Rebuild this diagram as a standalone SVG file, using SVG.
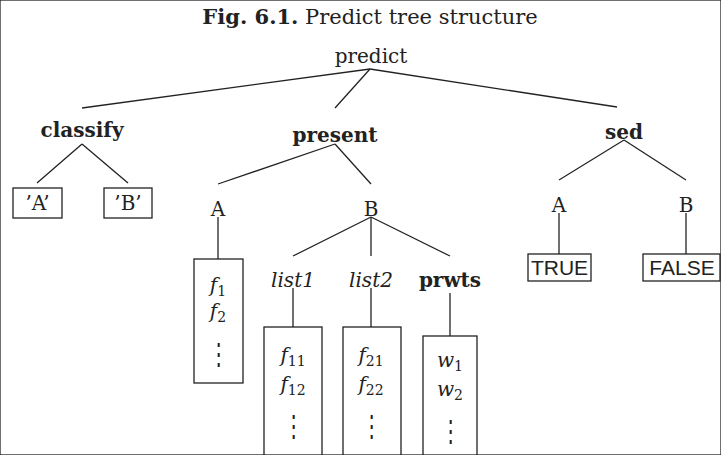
<svg xmlns="http://www.w3.org/2000/svg" width="721" height="455" viewBox="0 0 721 455">
<style>
text{font-family:"DejaVu Serif","Liberation Serif",serif;fill:#222;text-anchor:middle}
.n{font-size:20px}
.b{font-size:20px;font-weight:bold}
.i{font-size:20px;font-style:italic}
.s{font-family:"Liberation Sans",Arial,sans-serif;font-size:21px}
.sub{font-size:14px;font-style:normal}
.d{font-size:19px}
line{stroke:#222;stroke-width:1.3}
rect{fill:none;stroke:#222;stroke-width:1.3}
</style>
<rect width="721" height="455" fill="#fff" stroke="none"/>
<text x="370" y="24" style="font-size:21px"><tspan font-weight="bold">Fig. 6.1.</tspan> Predict tree structure</text>
<g id="connectors">
<line x1="370" y1="69" x2="82" y2="108"/>
<line x1="370" y1="69" x2="335" y2="108"/>
<line x1="370" y1="69" x2="617" y2="107"/>
<line x1="82" y1="144" x2="37" y2="183"/>
<line x1="82" y1="144" x2="128" y2="183"/>
<line x1="335" y1="144" x2="218" y2="184"/>
<line x1="335" y1="144" x2="371" y2="184"/>
<line x1="624" y1="140" x2="559" y2="180"/>
<line x1="624" y1="140" x2="686" y2="180"/>
<line x1="218" y1="217" x2="218" y2="259"/>
<line x1="371" y1="217" x2="293" y2="256"/>
<line x1="371" y1="217" x2="371" y2="256"/>
<line x1="371" y1="217" x2="450" y2="256"/>
<line x1="293" y1="288" x2="293" y2="327"/>
<line x1="371" y1="288" x2="371" y2="327"/>
<line x1="450" y1="293" x2="450" y2="336"/>
<line x1="559" y1="213" x2="559" y2="254"/>
<line x1="686" y1="213" x2="686" y2="254"/>
</g>
<g id="predict"><text class="n" x="371" y="63">predict</text></g>
<g id="classify"><text class="b" x="82" y="137">classify</text></g>
<g id="present"><text class="b" x="335" y="142">present</text></g>
<g id="sed"><text class="b" x="624" y="139">sed</text></g>
<g id="classA"><rect x="13" y="188" width="49" height="30"/><text class="n" x="37.5" y="210">’A’</text></g>
<g id="classB"><rect x="104" y="188" width="48" height="30"/><text class="n" x="128" y="210">’B’</text></g>
<g id="presA"><text class="n" x="218" y="216">A</text></g>
<g id="presB"><text class="n" x="371" y="216">B</text></g>
<g id="fbox"><rect x="194" y="259" width="49" height="124"/>
<text class="i" x="218" y="292">f<tspan class="sub" dy="4">1</tspan></text>
<text class="i" x="218" y="318">f<tspan class="sub" dy="4">2</tspan></text>
<text class="d" transform="translate(218,364) scale(1,1.5)">⋮</text></g>
<g id="list1"><text class="i" x="293" y="287">list1</text></g>
<g id="list2"><text class="i" x="371" y="287">list2</text></g>
<g id="prwts"><text class="b" x="450" y="287">prwts</text></g>
<g id="list1box"><rect x="264" y="327" width="58" height="140"/>
<text class="i" x="293" y="362">f<tspan class="sub" dy="4">11</tspan></text>
<text class="i" x="293" y="391">f<tspan class="sub" dy="4">12</tspan></text>
<text class="d" transform="translate(293,436) scale(1,1.5)">⋮</text></g>
<g id="list2box"><rect x="343" y="327" width="58" height="140"/>
<text class="i" x="371" y="362">f<tspan class="sub" dy="4">21</tspan></text>
<text class="i" x="371" y="391">f<tspan class="sub" dy="4">22</tspan></text>
<text class="d" transform="translate(371,436) scale(1,1.5)">⋮</text></g>
<g id="prwtsbox"><rect x="423" y="336" width="54" height="130"/>
<text class="i" x="450" y="367">w<tspan class="sub" dy="4">1</tspan></text>
<text class="i" x="450" y="396">w<tspan class="sub" dy="4">2</tspan></text>
<text class="d" transform="translate(450,441) scale(1,1.5)">⋮</text></g>
<g id="sedA"><text class="n" x="559" y="212">A</text></g>
<g id="sedB"><text class="n" x="686" y="212">B</text></g>
<g id="true"><rect x="528" y="254" width="63" height="27"/><text class="s" x="559.5" y="275">TRUE</text></g>
<g id="false"><rect x="643" y="254" width="77" height="27"/><text class="s" x="682" y="275">FALSE</text></g>
</svg>
